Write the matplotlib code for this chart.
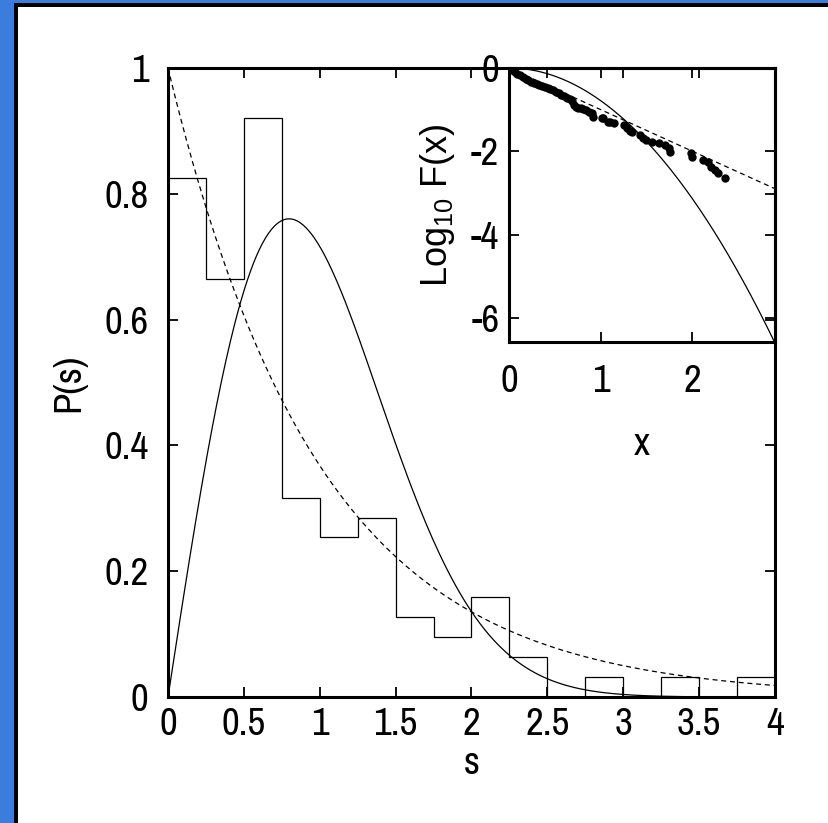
import numpy as np
import matplotlib
matplotlib.use("Agg")
import matplotlib.pyplot as plt
from matplotlib.patches import Rectangle
from matplotlib import font_manager as fm

# ---- data ----
bin_edges = [0.0, 0.25, 0.5, 0.75, 1.0, 1.25, 1.5, 1.75, 2.0, 2.25, 2.5, 2.75, 3.0, 3.25, 3.5, 3.75, 4.0]
hist_vals = [0.825, 0.665, 0.92, 0.317, 0.254, 0.285, 0.127, 0.095, 0.159, 0.063, 0.0, 0.032, 0.0, 0.032, 0.0, 0.032]

main_xticks = [0, 0.5, 1, 1.5, 2, 2.5, 3, 3.5, 4]
main_xticklabels = ["0", "0.5", "1", "1.5", "2", "2.5", "3", "3.5", "4"]
main_yticks = [0, 0.2, 0.4, 0.6, 0.8, 1.0]
main_yticklabels = ["0", "0.2", "0.4", "0.6", "0.8", "1"]

inset_x = [0.00, 0.03, 0.06, 0.09, 0.12, 0.15, 0.18, 0.21, 0.24, 0.27, 0.30, 0.33, 0.36, 0.39,
           0.42, 0.45, 0.48, 0.51, 0.54, 0.57, 0.60, 0.63, 0.66, 0.69, 0.71, 0.73, 0.75, 0.78,
           0.81, 0.84, 0.87, 0.91, 0.92, 1.01, 1.02, 1.08, 1.10, 1.14, 1.25, 1.29, 1.32, 1.34,
           1.43, 1.46, 1.49, 1.56, 1.64, 1.70, 1.74, 1.76, 1.98, 2.00, 2.11, 2.17, 2.20, 2.25,
           2.28, 2.35]
inset_y = [0.00, -0.05, -0.10, -0.14, -0.18, -0.22, -0.26, -0.30, -0.33, -0.36, -0.38, -0.41,
           -0.44, -0.46, -0.48, -0.51, -0.53, -0.57, -0.61, -0.64, -0.68, -0.71, -0.75, -0.80,
           -0.88, -0.94, -0.96, -0.97, -0.99, -1.02, -1.05, -1.08, -1.18, -1.21, -1.20, -1.29,
           -1.30, -1.32, -1.37, -1.44, -1.52, -1.54, -1.61, -1.68, -1.73, -1.78, -1.80, -1.85,
           -1.92, -2.02, -2.04, -2.14, -2.21, -2.26, -2.38, -2.45, -2.52, -2.64]

inset_xticks = [0, 1, 2]
inset_xticklabels = ["0", "1", "2"]
inset_yticks = [0, -2, -4, -6]
inset_yticklabels = ["0", "-2", "-4", "-6"]

# theoretical curves (Poisson and Wigner)
s = np.linspace(0, 4, 400)
poisson = np.exp(-s)
wigner = (np.pi / 2) * s * np.exp(-np.pi * s ** 2 / 4)
xi = np.linspace(0, 2.9, 300)
inset_poisson = -xi
inset_wigner = -np.pi * xi ** 2 / 4


# ---- pick a condensed sans font if one is installed ----
def pick_narrow(size):
    best = None
    for f in fm.fontManager.ttflist:
        n = f.name.lower()
        fn = f.fname.lower()
        if f.style != "normal":
            continue
        if f.weight not in (400, "normal", "regular", "book"):
            continue
        score = None
        if "liberation sans narrow" in n or "liberationsansnarrow" in fn.replace("-", ""):
            score = 0
        elif "narrow" in n or "narrow" in fn:
            score = 1
        elif ("condensed" in n or "condensed" in fn or f.stretch == "condensed") and "sans" in (n + fn) \
                and "mono" not in n and "bold" not in fn and "oblique" not in fn:
            score = 2
        if score is not None and (best is None or score < best[0]):
            best = (score, f.fname)
    if best is None:
        return fm.FontProperties(family=["Liberation Sans", "DejaVu Sans"], size=size)
    return fm.FontProperties(fname=best[1], size=size)


# ---- figure ----
W, H = 829, 823
fig = plt.figure(figsize=(W / 100, H / 100), dpi=100)
fig.patch.set_facecolor("white")

tick_fp = pick_narrow(28)
lab_fp = pick_narrow(28)
reg_fp = fm.FontProperties(family=["Liberation Sans", "DejaVu Sans"], size=26)


def px_rect(x0, y0, w, h, color):
    fig.add_artist(Rectangle((x0 / W, 1 - (y0 + h) / H), w / W, h / H,
                             transform=fig.transFigure, facecolor=color,
                             edgecolor="none", zorder=-5))


blue = "#3b7ddd"
px_rect(0, 0, 14, H, blue)
px_rect(0, 0, W, 3, blue)
px_rect(14, 3, 4, H, "black")
px_rect(14, 3, W, 4, "black")

# main axes
ax = fig.add_axes([168 / W, 1 - 697 / H, (775 - 168) / W, (697 - 68) / H])
ax.stairs(hist_vals, bin_edges, baseline=0, color="black", lw=0.9)
ax.plot(s, poisson, color="black", lw=0.9, ls=(0, (4, 3)))
ax.plot(s, wigner, color="black", lw=0.9)
ax.set_xlim(0, 4)
ax.set_ylim(0, 1)
ax.set_xticks(main_xticks)
ax.set_xticklabels(main_xticklabels, fontproperties=tick_fp)
ax.set_yticks(main_yticks)
ax.set_yticklabels(main_yticklabels, fontproperties=tick_fp)
ax.tick_params(axis="x", direction="in", length=7, width=1.3, top=True, pad=7)
ax.tick_params(axis="y", direction="in", length=7, width=1.3, right=True, pad=14)
for sp in ax.spines.values():
    sp.set_linewidth(2.2)
ax.set_xlabel("s", fontproperties=lab_fp, labelpad=3)
ax.set_ylabel("P(s)", fontproperties=lab_fp, labelpad=13)

# inset
ins = fig.add_axes([509 / W, 1 - 342 / H, (775 - 509) / W, (342 - 68) / H])
ins.patch.set_alpha(0)
ins.plot(xi, inset_wigner, color="black", lw=0.9)
ins.plot(xi, inset_poisson, color="black", lw=0.9, ls=(0, (4, 3)))
ins.plot(inset_x, inset_y, ls="none", marker="o", ms=5, color="black")
ins.set_xlim(0, 2.9)
ins.set_ylim(-6.58, 0)
ins.set_xticks(inset_xticks)
ins.set_xticklabels(inset_xticklabels, fontproperties=tick_fp)
ins.set_yticks(inset_yticks)
ins.set_yticklabels(inset_yticklabels, fontproperties=tick_fp)
ins.tick_params(axis="x", direction="in", length=7, width=1.3, top=True, pad=16)
ins.tick_params(axis="y", direction="in", length=7, width=1.3, right=True, pad=7)
for sp in ins.spines.values():
    sp.set_linewidth(2.2)
ins.set_xlabel("x", fontproperties=lab_fp, labelpad=20)
ins.set_ylabel(r"Log$\mathregular{_{10}}$ F(x)", fontproperties=reg_fp, labelpad=10)

fig.savefig("out.png", dpi=100)
